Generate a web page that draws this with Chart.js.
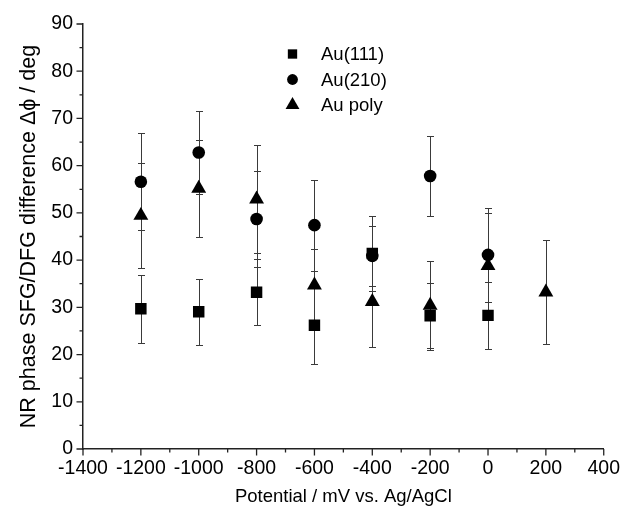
<!DOCTYPE html>
<html>
<head>
<meta charset="utf-8">
<script src="https://cdn.jsdelivr.net/npm/chart.js@4.4.1/dist/chart.umd.min.js"></script>
<style>
  html, body { margin: 0; padding: 0; background: #fff; }
  #wrap { width: 628px; height: 518px; }
</style>
</head>
<body>
<div id="wrap"><canvas id="c" width="628" height="518"></canvas></div>
<script>
// Electrode potential (mV vs. Ag/AgCl)
const potentials = [-1200, -1000, -800, -600, -400, -200, 0, 200];

// NR phase difference (deg) and its uncertainty for each surface
const au111 = [29.7, 29.05, 33.2, 26.2, 41.4, 28.2, 28.3];
const au111Err = [7.2, 6.95, 7.0, 8.1, 7.9, 6.85, 7.05];

const au210 = [56.6, 62.8, 48.7, 47.4, 40.9, 57.8, 41.1];
const au210Err = [10.3, 8.7, 10.25, 9.6, 6.3, 8.45, 10.0];

const auPoly = [49.45, 55.2, 52.9, 34.7, 31.2, 30.4, 38.8, 33.2];
const auPolyErr = [11.2, 10.3, 11.4, 7.6, 9.5, 9.4, 11.2, 11.0];

// Axis ticks
const xMajorStep = 200, xMinorStep = 100;
const yMajorStep = 10, yMinorStep = 5;

const FONT = "'Liberation Sans', Arial, Helvetica, sans-serif";

function toPoints(ys) {
  return ys.map((v, i) => ({ x: potentials[i], y: v }));
}

const seriesList = [
  { label: 'Au(111)', data: au111, err: au111Err, style: 'rect', radius: 8.1, legendRadius: 6.6 },
  { label: 'Au(210)', data: au210, err: au210Err, style: 'circle', radius: 6.3, legendRadius: 5.4 },
  { label: 'Au poly', data: auPoly, err: auPolyErr, style: 'triangle', radius: 8.6, legendRadius: 8 }
];

// Vertical error bars with end caps, drawn underneath the markers
const errorBars = {
  id: 'errorBars',
  beforeDatasetsDraw(chart) {
    const { ctx, scales: { x, y } } = chart;
    ctx.save();
    ctx.strokeStyle = '#3a3a3a';
    ctx.lineWidth = 1;
    chart.data.datasets.forEach(ds => {
      ds.data.forEach((p, i) => {
        const e = ds.errors[i];
        const px = Math.round(x.getPixelForValue(p.x)) + 0.5;
        const yt = Math.round(y.getPixelForValue(p.y + e)) + 0.5;
        const yb = Math.round(y.getPixelForValue(p.y - e)) + 0.5;
        ctx.beginPath();
        ctx.moveTo(px, yt); ctx.lineTo(px, yb);
        ctx.moveTo(px - 3.5, yt); ctx.lineTo(px + 3.5, yt);
        ctx.moveTo(px - 3.5, yb); ctx.lineTo(px + 3.5, yb);
        ctx.stroke();
      });
    });
    ctx.restore();
  }
};

// Outward major and minor tick marks on both axes
const tickMarks = {
  id: 'tickMarks',
  afterDraw(chart) {
    const { ctx, scales: { x, y } } = chart;
    ctx.save();
    ctx.strokeStyle = '#222';
    ctx.lineWidth = 1.3;
    ctx.beginPath();
    for (let v = x.min; v <= x.max + 1e-6; v += xMinorStep) {
      const major = Math.abs(((v - x.min) / xMajorStep) - Math.round((v - x.min) / xMajorStep)) < 1e-6;
      const px = x.getPixelForValue(v);
      ctx.moveTo(px, y.bottom);
      ctx.lineTo(px, y.bottom + (major ? 6.5 : 3.5));
    }
    for (let v = y.min; v <= y.max + 1e-6; v += yMinorStep) {
      const major = Math.abs((v / yMajorStep) - Math.round(v / yMajorStep)) < 1e-6;
      const py = y.getPixelForValue(v);
      ctx.moveTo(x.left, py);
      ctx.lineTo(x.left - (major ? 6.5 : 3.5), py);
    }
    ctx.stroke();
    ctx.restore();
  }
};

function drawMarker(ctx, style, r, cx, cy) {
  ctx.beginPath();
  if (style === 'rect') {
    const s = Math.SQRT1_2 * r;
    ctx.rect(cx - s, cy - s, 2 * s, 2 * s);
  } else if (style === 'circle') {
    ctx.arc(cx, cy, r, 0, Math.PI * 2);
  } else {
    ctx.moveTo(cx, cy - r);
    ctx.lineTo(cx + Math.sin(2 * Math.PI / 3) * r, cy + r / 2);
    ctx.lineTo(cx - Math.sin(2 * Math.PI / 3) * r, cy + r / 2);
    ctx.closePath();
  }
  ctx.fill();
}

// Symbol legend placed inside the plot area
const symbolLegend = {
  id: 'symbolLegend',
  afterDraw(chart) {
    const { ctx } = chart;
    ctx.save();
    ctx.fillStyle = '#000';
    ctx.font = `18.5px ${FONT}`;
    ctx.textBaseline = 'middle';
    seriesList.forEach((s, i) => {
      const cy = 54 + i * 25.5;
      drawMarker(ctx, s.style, s.legendRadius, 292.5, cy);
      ctx.fillText(s.label, 321, cy + 1);
    });
    ctx.restore();
  }
};

new Chart(document.getElementById('c'), {
  type: 'scatter',
  data: {
    datasets: seriesList.map(s => ({
      label: s.label,
      data: toPoints(s.data),
      errors: s.err,
      pointStyle: s.style,
      pointRadius: s.radius,
      pointHoverRadius: s.radius,
      backgroundColor: '#000',
      borderColor: '#000',
      borderWidth: 0,
      showLine: false
    }))
  },
  options: {
    responsive: false,
    devicePixelRatio: 1,
    animation: false,
    layout: { padding: { top: 24, right: 19, left: 0, bottom: 0 } },
    plugins: {
      legend: { display: false },
      tooltip: { enabled: false }
    },
    scales: {
      x: {
        type: 'linear',
        min: -1400,
        max: 400,
        afterFit(scale) { scale.height = 69; },
        ticks: {
          stepSize: xMajorStep,
          color: '#000',
          padding: 8,
          maxRotation: 0,
          autoSkip: false,
          callback: v => String(v),
          font: { family: FONT, size: 19.5 }
        },
        grid: { display: false, drawTicks: false },
        border: { display: true, color: '#222', width: 1.5 },
        title: {
          display: true,
          text: 'Potential / mV vs. Ag/AgCl',
          color: '#000',
          font: { family: FONT, size: 18.5 },
          padding: { top: 0, bottom: 9.5 }
        }
      },
      y: {
        type: 'linear',
        min: 0,
        max: 90,
        afterFit(scale) { scale.width = 83; },
        ticks: {
          stepSize: yMajorStep,
          color: '#000',
          padding: 10,
          callback: v => String(v),
          font: { family: FONT, size: 19.5 }
        },
        grid: { display: false, drawTicks: false },
        border: { display: true, color: '#222', width: 1.5 },
        title: {
          display: true,
          text: 'NR phase SFG/DFG difference \u0394\u03d5 / deg',
          color: '#000',
          font: { family: FONT, size: 21.5 },
          padding: { top: 16, bottom: 0 }
        }
      }
    }
  },
  plugins: [errorBars, tickMarks, symbolLegend]
});
</script>
</body>
</html>
